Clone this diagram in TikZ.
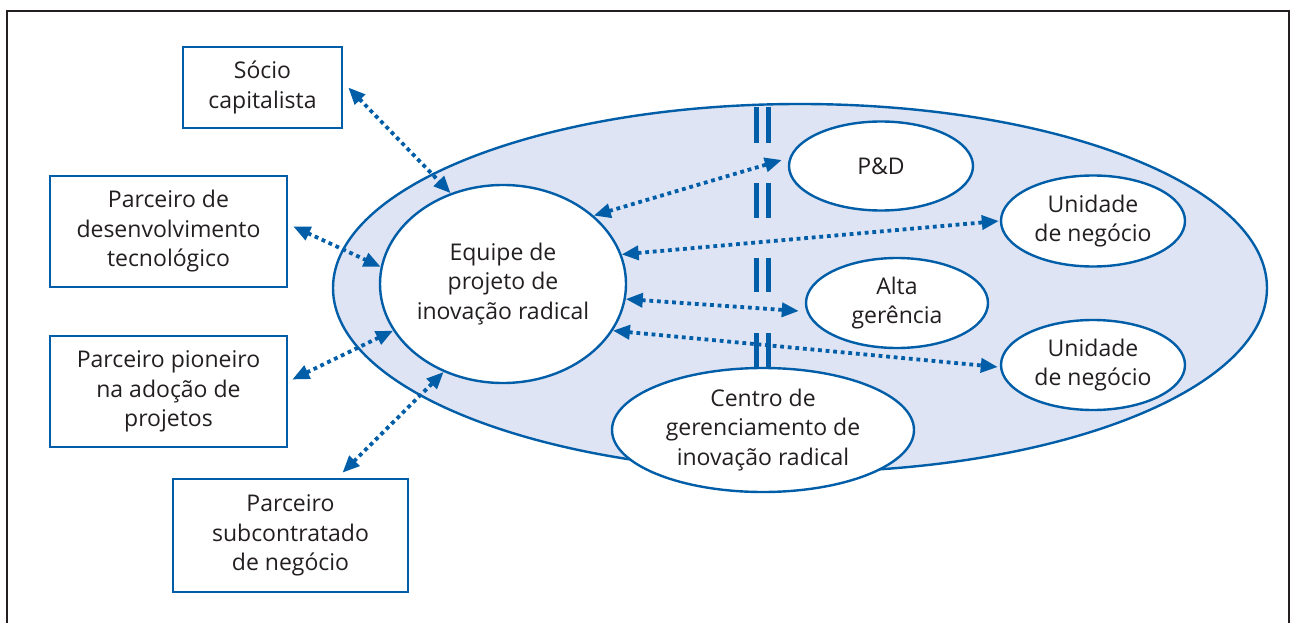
\documentclass[tikz,border=0pt]{standalone}
\usepackage{fontspec}
\setmainfont{Open Sans}
\usetikzlibrary{shapes.geometric,arrows.meta,calc}
\definecolor{cblue}{RGB}{0,94,168}
\definecolor{cfill}{RGB}{222,228,243}
\definecolor{ctext}{RGB}{35,31,32}
\begin{document}
\begin{tikzpicture}[x=1pt,y=-1pt,
  font=\fontsize{23}{29.5}\selectfont,
  box/.style={draw=cblue,line width=2.6pt,fill=white,text=ctext,align=center,inner sep=0pt},
  oval/.style={ellipse,draw=cblue,line width=2.4pt,fill=white,text=ctext,align=center,inner sep=-25pt},
  conn/.style={cblue,line width=3.8pt,dash pattern=on 3.8pt off 3.8pt,{Triangle[length=17pt,width=14pt]}-{Triangle[length=17pt,width=14pt]}},
  bar/.style={cblue,line width=5pt}]
\useasboundingbox (0,0) rectangle (1291,623);
\draw[ctext,line width=2.5pt] (7,640) -- (7,11) -- (1289,11) -- (1289,640);

% organisation
\node[ellipse,draw=cblue,fill=cfill,line width=2.4pt,minimum width=934pt,minimum height=368pt,inner sep=0pt] (org) at (800,288) {};

% boxes
\node[box,minimum width=159pt,minimum height=81pt] (socio) at (262.5,87.5) {Sócio\\capitalista};
\node[box,minimum width=237pt,minimum height=111pt] (dev) at (168.5,231.5) {Parceiro de\\desenvolvimento\\tecnológico};
\node[box,minimum width=237pt,minimum height=111pt] (pion) at (168.5,391.5) {Parceiro pioneiro\\na adoção de\\projetos};
\node[box,minimum width=235pt,minimum height=113pt] (sub) at (290.5,535.5) {Parceiro\\subcontratado\\de negócio};

% ovals
\node[oval,minimum width=246pt,minimum height=198pt] (equipe) at (503,284) {Equipe de\\projeto de\\inovação radical};
\node[oval,minimum width=184pt,minimum height=89pt] (pd) at (881,166) {P\&D};
\node[oval,minimum width=184pt,minimum height=91pt] (un1) at (1093,221) {Unidade\\de negócio};
\node[oval,minimum width=182pt,minimum height=90pt] (alta) at (897,303) {Alta\\gerência};
\node[oval,minimum width=184pt,minimum height=90pt] (un2) at (1093,365) {Unidade\\de negócio};
\node[oval,minimum width=302pt,minimum height=124pt] (centro) at (763,430) {Centro de\\gerenciamento de\\inovação radical};

% double barrier
\foreach \bx in {756.5,768}{
  \draw[bar] (\bx,107) -- (\bx,143);
  \draw[bar] (\bx,183) -- (\bx,218);
  \draw[bar] (\bx,258) -- (\bx,292);
  \draw[bar] (\bx,333) -- (\bx,368);
}

% connectors
\draw[conn] ([xshift=5pt]socio.east) -- (equipe.120);
\draw[conn] ([xshift=5pt,yshift=5pt]dev.east) -- (equipe.172);
\draw[conn] ([xshift=4pt,yshift=12pt]pion.east) -- (equipe.203);
\draw[conn] ([xshift=52pt,yshift=5pt]sub.north) -- (equipe.236);
\draw[conn] (equipe.37) -- ([xshift=-6pt,yshift=6pt]pd.west);
\draw[conn] (equipe.14) -- ([xshift=-1pt]un1.west);
\draw[conn] (equipe.-7) -- ([xshift=-6pt,yshift=-8pt]alta.west);
\draw[conn] (equipe.-23) -- ([xshift=-2pt,yshift=-2pt]un2.west);
\end{tikzpicture}
\end{document}
